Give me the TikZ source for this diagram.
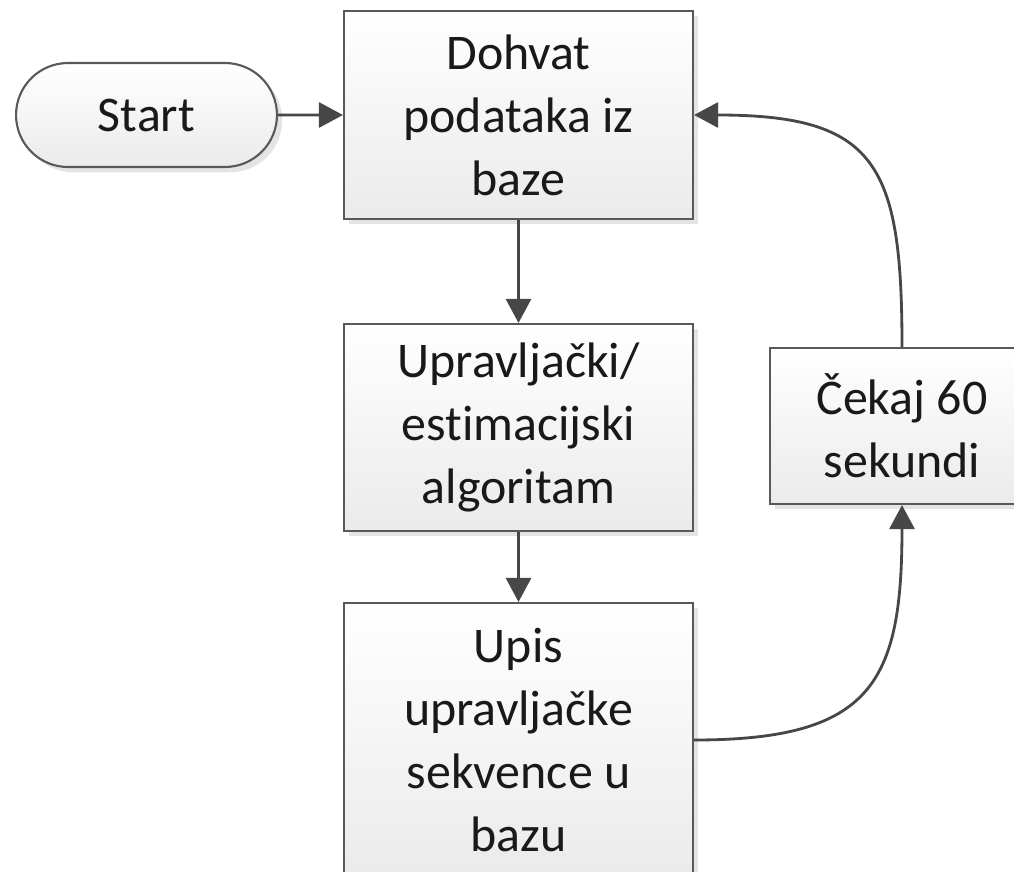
\documentclass[tikz,border=0pt]{standalone}
\usepackage{fontspec}
\setmainfont{Carlito}[Ligatures=NoCommon]
\usetikzlibrary{arrows.meta,shadows,shapes.misc}
\begin{document}
\begin{tikzpicture}[x=0.02cm,y=-0.02cm]
  	\tikzstyle{every node}=[font=\fontsize{28.4}{35.8}\selectfont, align=center, inner sep=0pt, text=black!90]
  	\tikzstyle{box}=[rectangle, draw=black!65, line width=1.2pt, top color=white, bottom color=black!8, drop shadow={shadow xshift=3pt, shadow yshift=-3pt, fill=black!30, opacity=0.35}]
  	\tikzstyle{arr}=[draw=black!72, line width=1.6pt, -{Triangle[length=0.48cm,width=0.5cm]}]
  	\useasboundingbox (0,0) rectangle (1014,872);
  	\clip (0,0) rectangle (1014,872);
  	\node[box, rounded rectangle, minimum width=5.22cm, minimum height=2.08cm] (start) at (146.5,115) {Start};
  	\node[box, minimum width=6.98cm, minimum height=4.16cm] (dohvat) at (518.5,115) {Dohvat\\podataka iz\\baze};
  	\node[box, minimum width=6.98cm, minimum height=4.14cm] (algoritam) at (518.5,427.5) {Upravljački/\\estimacijski\\algoritam};
  	\node[box, minimum width=6.98cm, minimum height=5.48cm] (upis) at (518.5,740) {Upis\\upravljačke\\sekvence u\\bazu};
  	\node[box, minimum width=5.28cm, minimum height=3.12cm] (cekaj) at (902,426) {Čekaj 60\\sekundi};
  	\draw[arr] (start) -- (dohvat);
  	\draw[arr] (dohvat) -- (algoritam);
  	\draw[arr] (algoritam) -- (upis);
  	\draw[arr] (upis.east) to[out=0, in=-90, looseness=1.45] (cekaj.south);
  	\draw[arr] (cekaj.north) to[out=90, in=0, looseness=1.5] (dohvat.east);
  \end{tikzpicture}
\end{document}
